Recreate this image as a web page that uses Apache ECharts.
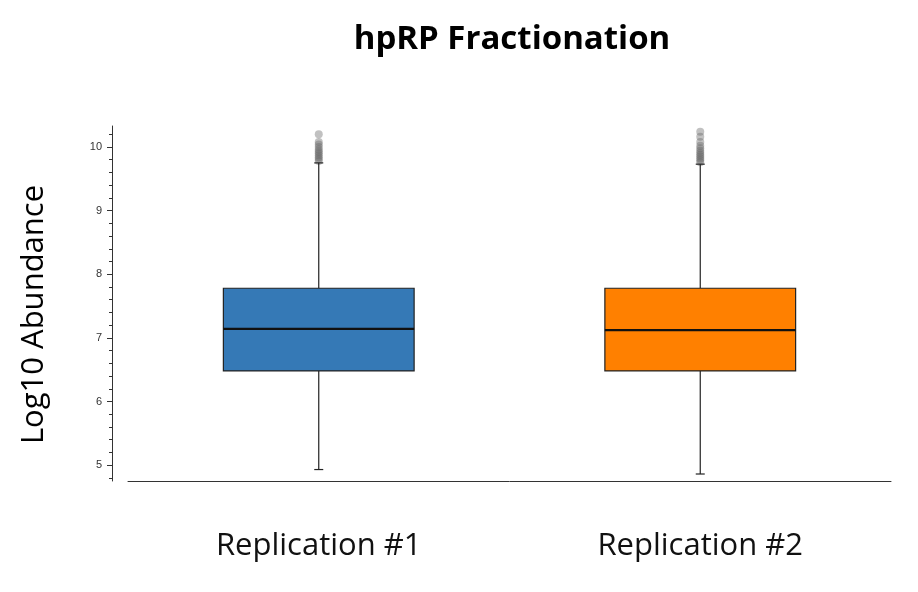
<!DOCTYPE html>
<html>
<head>
<meta charset="utf-8">
<script src="https://cdn.jsdelivr.net/npm/echarts@6/dist/echarts.min.js"></script>
<style>
  html, body { margin: 0; padding: 0; background: #fff; }
  #chart { width: 918px; height: 592px; }
</style>
</head>
<body>
<div id="chart"></div>
<script>
// categories
const categories = ['Replication #1', 'Replication #2'];
// box stats: [low whisker, Q1, median, Q3, high whisker]
const rep1Box = [4.93, 6.48, 7.14, 7.78, 9.75];
const rep2Box = [4.86, 6.48, 7.12, 7.78, 9.73];
// outliers above the upper whisker
const rep1Outliers = [9.78, 9.81, 9.84, 9.87, 9.9, 9.93, 9.96, 10.0, 10.04, 10.08, 10.2];
const rep2Outliers = [9.76, 9.79, 9.82, 9.85, 9.88, 9.91, 9.94, 9.98, 10.02, 10.08, 10.16, 10.24];
// y axis ticks
const yTicks = [5, 6, 7, 8, 9, 10];
const yMinorTicks = [4.8, 5.2, 5.4, 5.6, 5.8, 6.2, 6.4, 6.6, 6.8, 7.2, 7.4, 7.6, 7.8,
  8.2, 8.4, 8.6, 8.8, 9.2, 9.4, 9.6, 9.8, 10.2];
const yMin = 4.75;
const yMax = 10.33;

const boxColors = ['#3579B6', '#FF8000'];

const chart = echarts.init(document.getElementById('chart'));

function renderBox(params, api) {
  const x = api.value(0);
  const lo = api.coord([x, api.value(1)]);
  const q1 = api.coord([x, api.value(2)]);
  const med = api.coord([x, api.value(3)]);
  const q3 = api.coord([x, api.value(4)]);
  const hi = api.coord([x, api.value(5)]);
  const bw = api.size([1, 0])[0] * 0.5;
  const cap = 4.5;
  const cx = lo[0];
  const lineStyle = { stroke: '#222', lineWidth: 1.2 };
  return {
    type: 'group',
    children: [
      { type: 'line', shape: { x1: cx, y1: hi[1], x2: cx, y2: q3[1] }, style: lineStyle },
      { type: 'line', shape: { x1: cx, y1: q1[1], x2: cx, y2: lo[1] }, style: lineStyle },
      { type: 'line', shape: { x1: cx - cap, y1: hi[1], x2: cx + cap, y2: hi[1] }, style: lineStyle },
      { type: 'line', shape: { x1: cx - cap, y1: lo[1], x2: cx + cap, y2: lo[1] }, style: lineStyle },
      {
        type: 'rect',
        shape: { x: cx - bw / 2, y: q3[1], width: bw, height: q1[1] - q3[1] },
        style: { fill: boxColors[params.dataIndex], stroke: '#222', lineWidth: 1.2 }
      },
      { type: 'line', shape: { x1: cx - bw / 2, y1: med[1], x2: cx + bw / 2, y2: med[1] },
        style: { stroke: '#111', lineWidth: 2.2 } }
    ]
  };
}

const option = {
  animation: false,
  backgroundColor: '#fff',
  title: {
    text: 'hpRP Fractionation',
    left: 507,
    textAlign: 'center',
    top: 18,
    textStyle: { fontFamily: 'Open Sans', fontWeight: 'bold', fontSize: 33, color: '#000' }
  },
  grid: { left: 128, right: 27, top: 126, bottom: 111 },
  xAxis: {
    type: 'category',
    data: categories,
    axisLine: { lineStyle: { color: '#333', width: 1 } },
    axisTick: { alignWithLabel: true, length: 5, lineStyle: { color: '#333' } },
    axisLabel: { margin: 50, fontFamily: 'Open Sans', fontSize: 31, color: '#111' }
  },
  yAxis: [
    {
      type: 'value',
      min: yMin,
      max: yMax,
      offset: 16,
      name: 'Log10 Abundance',
      nameLocation: 'middle',
      nameGap: 62,
      nameTextStyle: { fontFamily: 'Open Sans', fontSize: 31, color: '#000', padding: [0, 22, 0, 0] },
      splitLine: { show: false },
      axisLine: { show: true, lineStyle: { color: '#333', width: 1 } },
      axisTick: { show: true, length: 5, customValues: yTicks, lineStyle: { color: '#333' } },
      axisLabel: { customValues: yTicks, margin: 10, fontFamily: 'Liberation Sans', fontSize: 11, color: '#333' }
    },
    {
      type: 'value',
      min: yMin,
      max: yMax,
      offset: 16,
      position: 'left',
      splitLine: { show: false },
      axisLine: { show: false },
      axisTick: { show: true, length: 3, customValues: yMinorTicks, lineStyle: { color: '#333' } },
      axisLabel: { show: false }
    }
  ],
  series: [
    {
      type: 'scatter',
      symbolSize: 8,
      itemStyle: { color: 'rgba(100,100,100,0.5)' },
      data: rep1Outliers.map(v => [0, v])
    },
    {
      type: 'scatter',
      symbolSize: 8,
      itemStyle: { color: 'rgba(100,100,100,0.5)' },
      data: rep2Outliers.map(v => [1, v])
    },
    {
      type: 'custom',
      renderItem: renderBox,
      encode: { x: 0, y: [1, 2, 3, 4, 5] },
      data: [[0].concat(rep1Box), [1].concat(rep2Box)],
      z: 3
    }
  ]
};

chart.setOption(option);
</script>
</body>
</html>
